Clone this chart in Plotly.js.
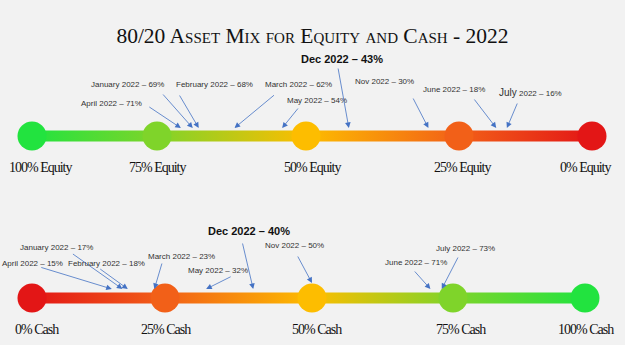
<!DOCTYPE html>
<html><head><meta charset="utf-8">
<script src="https://cdn.plot.ly/plotly-3.0.1.min.js"></script>
<style>html,body{margin:0;padding:0;background:#f2f2f2;}</style>
</head><body><div id="chart" style="width:625px;height:345px;"></div>
<script>
// ---- data ----
const months = ['January 2022','February 2022','March 2022','April 2022','May 2022','June 2022','July 2022','Nov 2022','Dec 2022'];
const equity = [69, 68, 62, 71, 54, 18, 16, 30, 43];
const cash   = [17, 18, 23, 15, 32, 71, 73, 50, 40];
const equityScale = [100, 75, 50, 25, 0];
const cashScale   = [0, 25, 50, 75, 100];
const equityUnit = 'Equity';
const cashUnit = 'Cash';
const titleText = '80/20 Asset Mix for Equity and Cash - 2022';

// ---- layout / style ----
const W = 625, H = 345;
const equityNodePx = [32, 157, 306, 459, 592];
const cashNodePx   = [32, 165, 312, 453, 585];
const equityColors = ['#22e33f', '#7fd42a', '#fdbd00', '#f26018', '#e31616'];
const cashColors   = ['#e31616', '#f26018', '#fdbd00', '#7fd42a', '#22e33f'];
const eqLabelShift = [8, 0, 6, 3, -7];
const cashLabelShift = [5, 1, 5, 8, 1];
const eqArrowOff = [[-31,-35],[-20,-34],[41,-34],[-33,-22],[17,-21],[-23,-30],[11,-26],[-16,-31],[-11,-61]];
const eqTextOff  = [[-65,52],[16,52],[64,52],[-69,33],[35,36],[-42,47],[24,44],[-44,55],[-7,77]];
const eqTipShift = [8,8,8,8,8,8,8,8,8];
const cashArrowOff = [[-51,-36],[-29,-21],[8,-27],[-72,-22],[26,-13],[-17,-19],[17,-33],[-15,-28],[-11,-47]];
const cashTextOff  = [[-66,51],[-21,35],[27,42],[-79,35],[12,28],[-14,36],[24,50],[-18,53],[-4,67]];
const cashTipShift = [9,9,9,9,9,9,9,15,9];
const bigMonth = 'Dec 2022';
const bigWordTop = 'July';

const rowPx = [136, 298];
const pxPerUnit = rowPx[1] - rowPx[0];
const yRange = [-(H - rowPx[1]) / pxPerUnit, 1 + rowPx[0] / pxPerUnit];
const halfBand = 5.5 / pxPerUnit;

const lines = [
  {row: 1, scale: equityScale, px: equityNodePx, colors: equityColors, unit: equityUnit, values: equity,
   labelShift: eqLabelShift, arrowOff: eqArrowOff, textOff: eqTextOff, tipShift: eqTipShift, top: true},
  {row: 0, scale: cashScale, px: cashNodePx, colors: cashColors, unit: cashUnit, values: cash,
   labelShift: cashLabelShift, arrowOff: cashArrowOff, textOff: cashTextOff, tipShift: cashTipShift, top: false}
];

const traces = [];
const annotations = [];
const layout = {
  width: W, height: H, margin: {l: 0, r: 0, t: 0, b: 0},
  paper_bgcolor: '#f2f2f2', plot_bgcolor: 'rgba(0,0,0,0)', showlegend: false,
  title: {text: titleText, x: 0.5, xanchor: 'center', y: 1 - 35 / H, yanchor: 'middle',
          font: {family: 'Liberation Serif', size: 21.5, color: '#111', variant: 'small-caps'}},
  yaxis: {range: yRange, visible: false, fixedrange: true, domain: [0, 1]},
  annotations: annotations
};

function axisRef(k) { return 'x' + (k === 1 ? '' : k); }
function axisName(k) { return 'xaxis' + (k === 1 ? '' : k); }

lines.forEach((ln, li) => {
  const segAxis = [];
  for (let i = 0; i < 4; i++) {
    const k = li * 4 + i + 1;
    segAxis.push(axisRef(k));
    layout[axisName(k)] = {domain: [ln.px[i] / W, ln.px[i + 1] / W], range: [ln.scale[i], ln.scale[i + 1]],
                           visible: false, fixedrange: true, anchor: 'y'};
    const a = ln.scale[i], b = ln.scale[i + 1];
    const lo = Math.min(a, b), hi = Math.max(a, b);
    const cLo = a < b ? ln.colors[i] : ln.colors[i + 1];
    const cHi = a < b ? ln.colors[i + 1] : ln.colors[i];
    traces.push({
      type: 'scatter', mode: 'lines', xaxis: segAxis[i], yaxis: 'y',
      x: [a, b, b, a, a],
      y: [ln.row - halfBand, ln.row - halfBand, ln.row + halfBand, ln.row + halfBand, ln.row - halfBand],
      fill: 'toself', line: {width: 0, color: 'rgba(0,0,0,0)'},
      fillgradient: {type: 'horizontal', start: lo, stop: hi, colorscale: [[0, cLo], [1, cHi]]},
      hoverinfo: 'skip'
    });
  }
  function segFor(v) {
    for (let i = 0; i < 4; i++) {
      const lo = Math.min(ln.scale[i], ln.scale[i + 1]), hi = Math.max(ln.scale[i], ln.scale[i + 1]);
      if (v >= lo && v <= hi) return segAxis[i];
    }
    return segAxis[3];
  }
  // nodes
  ln.scale.forEach((v, j) => {
    const ax = segAxis[Math.min(j, 3)];
    traces.push({type: 'scatter', mode: 'markers', xaxis: ax, yaxis: 'y', x: [v], y: [ln.row],
                 cliponaxis: false, hoverinfo: 'skip',
                 marker: {size: 29, color: ln.colors[j], line: {width: 0}}});
    annotations.push({xref: ax, yref: 'y', x: v, y: ln.row, xshift: ln.labelShift[j], yshift: -31, showarrow: false,
      text: '<span style="letter-spacing:-1px">' + v + '% ' + ln.unit + '</span>',
      font: {family: 'Liberation Serif', size: 14, color: '#111'}});
  });
  // month markers
  months.forEach((m, j) => {
    const v = ln.values[j];
    const ax = segFor(v);
    annotations.push({xref: ax, yref: 'y', x: v, y: ln.row, yshift: ln.tipShift[j], text: '',
      showarrow: true, ax: ln.arrowOff[j][0], ay: ln.arrowOff[j][1], arrowhead: 2, arrowsize: 1.4,
      arrowwidth: 0.8, arrowcolor: '#4472c4'});
    let txt = m + ' – ' + v + '%';
    let font = {family: 'Liberation Sans', size: 8, color: '#333'};
    if (m === bigMonth) { txt = '<b>' + txt + '</b>'; font = {family: 'Liberation Sans', size: 11, color: '#111'}; }
    else if (ln.top && m.indexOf(bigWordTop) === 0) {
      txt = '<span style="font-size:10px">' + bigWordTop + '</span>' + m.slice(bigWordTop.length) + ' – ' + v + '%';
    }
    annotations.push({xref: ax, yref: 'y', x: v, y: ln.row, xshift: ln.textOff[j][0], yshift: ln.textOff[j][1],
      showarrow: false, text: txt, font: font});
  });
});

Plotly.newPlot('chart', traces, layout, {staticPlot: true, displayModeBar: false});
</script></body></html>
